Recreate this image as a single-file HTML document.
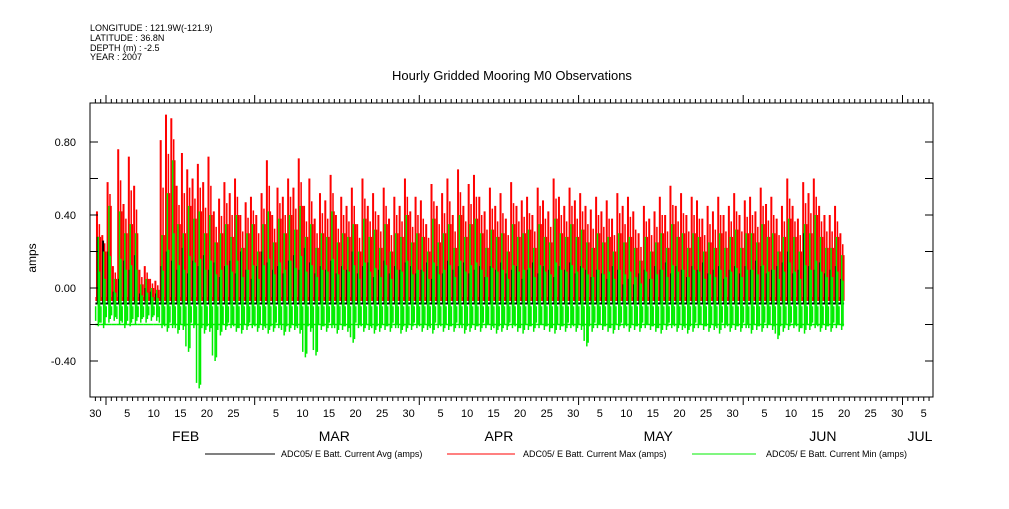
<!DOCTYPE html>
<html><head><meta charset="utf-8"><style>
body{margin:0;background:#fff;}
svg text{font-family:"Liberation Sans",sans-serif;}
</style></head><body>
<svg id="c" width="1009" height="504" xmlns="http://www.w3.org/2000/svg">
<g font-size="9" fill="#000">
<text x="90" y="31">LONGITUDE : 121.9W(-121.9)</text>
<text x="90" y="41">LATITUDE : 36.8N</text>
<text x="90" y="51">DEPTH (m) : -2.5</text>
<text x="90" y="60">YEAR : 2007</text>
</g>
<text x="512" y="80" font-size="13" text-anchor="middle">Hourly Gridded Mooring M0 Observations</text>
<text x="36" y="258" font-size="12" text-anchor="middle" transform="rotate(-90 36 258)">amps</text>
<g id="marks"></g>
<g id="axes"></g>
<g font-size="9">
<line x1="205" y1="454" x2="275" y2="454" stroke="#000"/>
<text x="281" y="457">ADC05/ E Batt. Current Avg (amps)</text>
<line x1="447" y1="454" x2="515" y2="454" stroke="#f00"/>
<text x="523" y="457">ADC05/ E Batt. Current Max (amps)</text>
<line x1="692" y1="454" x2="756" y2="454" stroke="#0e0"/>
<text x="766" y="457">ADC05/ E Batt. Current Min (amps)</text>
</g>
</svg>
<script>
// day index 0 = Jan 30 2007
const redMax=[0.42,0.29,0.58,0.12,0.76,0.46,0.72,0.56,0.10,0.12,0.05,0.04,0.81,0.95,0.93,0.56,0.74,0.65,0.60,0.68,0.58,0.72,0.42,0.49,0.58,0.52,0.60,0.40,0.47,0.50,0.40,0.52,0.70,0.40,0.55,0.50,0.60,0.55,0.71,0.45,0.60,0.38,0.52,0.48,0.62,0.40,0.50,0.45,0.55,0.35,0.60,0.45,0.52,0.40,0.55,0.38,0.50,0.45,0.60,0.42,0.50,0.48,0.35,0.57,0.45,0.52,0.60,0.40,0.65,0.45,0.57,0.62,0.50,0.42,0.55,0.45,0.52,0.38,0.58,0.45,0.48,0.50,0.40,0.55,0.48,0.42,0.60,0.50,0.45,0.55,0.48,0.52,0.45,0.43,0.50,0.42,0.48,0.38,0.52,0.45,0.50,0.42,0.30,0.45,0.38,0.42,0.50,0.40,0.56,0.45,0.52,0.40,0.50,0.48,0.38,0.45,0.42,0.50,0.40,0.45,0.52,0.40,0.48,0.50,0.42,0.55,0.46,0.50,0.38,0.45,0.60,0.45,0.38,0.58,0.52,0.60,0.45,0.40,0.40,0.45,0.30,0.49,0.38];
const greenMax=[0.28,0.20,0.45,0.05,0.42,0.30,0.35,0.30,0.02,0.05,0.00,-0.01,0.29,0.52,0.70,0.35,0.30,0.45,0.38,0.42,0.30,0.40,0.25,0.30,0.35,0.28,0.40,0.22,0.30,0.35,0.20,0.35,0.42,0.25,0.38,0.30,0.40,0.32,0.45,0.28,0.35,0.22,0.30,0.28,0.42,0.25,0.30,0.28,0.35,0.20,0.38,0.28,0.32,0.22,0.35,0.20,0.30,0.28,0.40,0.25,0.30,0.28,0.20,0.38,0.25,0.30,0.35,0.22,0.40,0.28,0.35,0.38,0.30,0.22,0.32,0.28,0.30,0.20,0.35,0.28,0.30,0.32,0.22,0.35,0.28,0.25,0.38,0.30,0.28,0.35,0.28,0.32,0.25,0.22,0.30,0.25,0.28,0.20,0.30,0.25,0.28,0.22,0.15,0.28,0.20,0.25,0.30,0.22,0.35,0.28,0.30,0.22,0.30,0.28,0.20,0.25,0.22,0.30,0.22,0.28,0.32,0.22,0.30,0.30,0.25,0.35,0.28,0.30,0.20,0.28,0.38,0.28,0.20,0.35,0.30,0.40,0.28,0.22,0.22,0.28,0.18,0.30,0.22];
const greenMin=[-0.21,-0.22,-0.19,-0.18,-0.20,-0.22,-0.21,-0.20,-0.19,-0.19,-0.18,-0.18,-0.22,-0.24,-0.22,-0.25,-0.23,-0.35,-0.22,-0.55,-0.25,-0.24,-0.40,-0.26,-0.23,-0.22,-0.24,-0.25,-0.23,-0.22,-0.24,-0.23,-0.25,-0.24,-0.22,-0.26,-0.24,-0.23,-0.25,-0.38,-0.24,-0.37,-0.23,-0.24,-0.22,-0.25,-0.23,-0.24,-0.30,-0.22,-0.24,-0.23,-0.25,-0.24,-0.23,-0.24,-0.22,-0.25,-0.24,-0.23,-0.22,-0.24,-0.23,-0.25,-0.22,-0.24,-0.23,-0.24,-0.22,-0.25,-0.24,-0.23,-0.24,-0.22,-0.23,-0.25,-0.24,-0.23,-0.22,-0.24,-0.25,-0.23,-0.24,-0.22,-0.23,-0.24,-0.25,-0.23,-0.24,-0.22,-0.24,-0.23,-0.32,-0.24,-0.22,-0.23,-0.24,-0.25,-0.23,-0.22,-0.24,-0.23,-0.24,-0.22,-0.23,-0.24,-0.25,-0.23,-0.22,-0.24,-0.23,-0.25,-0.24,-0.22,-0.23,-0.24,-0.23,-0.25,-0.22,-0.24,-0.23,-0.24,-0.22,-0.25,-0.23,-0.24,-0.22,-0.23,-0.28,-0.24,-0.23,-0.22,-0.24,-0.25,-0.23,-0.22,-0.24,-0.23,-0.24,-0.22,-0.23];
const avgMax=[0.28,0.26,0.20,-0.02,0.05,0.15,0.10,0.18,-0.03,0.00,-0.02,-0.03,0.12,0.20,0.15,0.10,0.22,0.08,0.15,0.12,0.18,0.10,0.14,0.06,0.12,0.15,0.08,0.20,0.10,0.05,0.12,0.20,0.14,0.10,0.12,0.08,0.15,0.18,0.10,0.22,0.14,0.08,0.12,0.10,0.15,0.08,0.12,0.10,0.20,0.08,0.12,0.14,0.06,0.10,0.15,0.08,0.12,0.10,0.14,0.12,0.08,0.10,0.14,0.05,0.12,0.08,0.15,0.10,0.12,0.14,0.08,0.10,0.12,0.06,0.12,0.10,0.14,0.08,0.10,0.12,0.05,0.10,0.14,0.08,0.12,0.10,0.06,0.12,0.10,0.14,0.08,0.12,0.10,0.06,0.10,0.08,0.05,0.12,0.10,0.02,0.05,0.02,0.08,0.10,0.05,0.12,0.10,0.14,0.08,0.12,0.10,0.06,0.12,0.10,0.14,0.08,0.10,0.12,0.05,0.10,0.12,0.08,0.12,0.10,0.15,0.12,0.08,0.10,0.12,0.14,0.20,0.08,0.10,0.30,0.12,0.10,0.14,0.08,0.10,0.12,0.05,0.14,0.08];
const yTicks=[0.8,0.6,0.4,0.2,0,-0.2,-0.4];
const yTickLabels=["0.80","","0.40","","0.00","","-0.40"];
const monthNames=["FEB","MAR","APR","MAY","JUN","JUL"];
const monthStart=[2,30,61,91,122,152];

const NS="http://www.w3.org/2000/svg";
const L=90,R=933,T=103,B=397;
const X=d=>106+(d-2)*5.31;
const Y=v=>288-v*182.5;
function mk(tag,attrs,parent){const e=document.createElementNS(NS,tag);for(const k in attrs)e.setAttribute(k,attrs[k]);parent.appendChild(e);return e;}
const marks=document.getElementById('marks'),axes=document.getElementById('axes');
const n=Math.min(redMax.length,greenMax.length,greenMin.length,avgMax.length);
let b1=mk('line',{x1:X(0),x2:X(n),y1:Y(-0.06),y2:Y(-0.06),stroke:'#f00','stroke-width':4},marks);


for(let d=0;d<n;d++){
  let r=mk('line',{x1:X(d+0.3),x2:X(d+0.3),y1:Y(-0.07),y2:Y(redMax[d]),stroke:'#f00','stroke-width':2},marks);
  
  
  let r2=mk('line',{x1:X(d+0.75),x2:X(d+0.75),y1:Y(-0.07),y2:Y((redMax[d]+greenMax[d])/2),stroke:'#f00','stroke-width':1.5},marks);
  
  
  let r3=mk('line',{x1:X(d+0.95),x2:X(d+0.95),y1:Y(-0.07),y2:Y(greenMax[d]),stroke:'#f00','stroke-width':1.5},marks);
  
  
  let a=mk('line',{x1:X(d+0.45),x2:X(d+0.45),y1:Y(-0.09),y2:Y(avgMax[d]),stroke:'#000','stroke-width':2},marks);
  
  
}
let b2=mk('line',{x1:X(0),x2:X(n),y1:Y(-0.085),y2:Y(-0.085),stroke:'#000','stroke-width':2},marks);


for(let d=0;d<n;d++){
  let g=mk('line',{x1:X(d+0.55),x2:X(d+0.55),y1:Y(greenMin[d]),y2:Y(greenMax[d]),stroke:'#0e0','stroke-width':1.5},marks);
  
  
  let g2=mk('line',{x1:X(d+0.05),x2:X(d+0.05),y1:Y(greenMin[d]+0.03),y2:Y(-0.1),stroke:'#0e0','stroke-width':1.5},marks);
  
  
  let g4=mk('line',{x1:X(d+0.8),x2:X(d+0.8),y1:Y(greenMin[d]+0.02),y2:Y((greenMax[d]-0.1)/2),stroke:'#0e0','stroke-width':1.5},marks);
  
  
  let g3=mk('line',{x1:X(d),x2:X(d+1),y1:Y(-0.2),y2:Y(-0.2),stroke:'#0e0','stroke-width':1.5},marks);
  
  
}
let f=mk('rect',{x:L,y:T,width:R-L,height:B-T,fill:'none',stroke:'#000','stroke-width':1},axes);


yTicks.forEach((v,i)=>{
  mk('line',{x1:L,x2:L+8,y1:Y(v),y2:Y(v),stroke:'#000'},axes);
  mk('line',{x1:R-8,x2:R,y1:Y(v),y2:Y(v),stroke:'#000'},axes);
  if(yTickLabels[i]){let t=mk('text',{x:76,y:Y(v)+4,'font-size':11,'text-anchor':'end'},axes);t.textContent=yTickLabels[i];
  
  }
});
for(let d=0;d<=159;d++){
  const x=X(d); if(x<L||x>R) continue;
  const major=monthStart.includes(d);
  const len=major?8:4;
  mk('line',{x1:x,x2:x,y1:B,y2:B+len,stroke:'#000'},axes);
  mk('line',{x1:x,x2:x,y1:T,y2:T-len,stroke:'#000'},axes);
}
for(let m=0;m<monthStart.length;m++){
  for(let day=5;day<=30;day+=5){
    const d=monthStart[m]+day-1; const x=X(d);
    if(x>R) continue;
    if(m<monthStart.length-1 && d>=monthStart[m+1]) continue;
    let t=mk('text',{x:x,y:417,'font-size':11,'text-anchor':'middle'},axes);t.textContent=day;
    
    
  }
  let mx=Math.min(X(monthStart[m]+15),R-13);
  let mt=mk('text',{x:mx,y:441,'font-size':14,'text-anchor':'middle'},axes);mt.textContent=monthNames[m];
  
  
}
let t0=mk('text',{x:X(0),y:417,'font-size':11,'text-anchor':'middle'},axes);t0.textContent='30';


</script>
</body></html>
